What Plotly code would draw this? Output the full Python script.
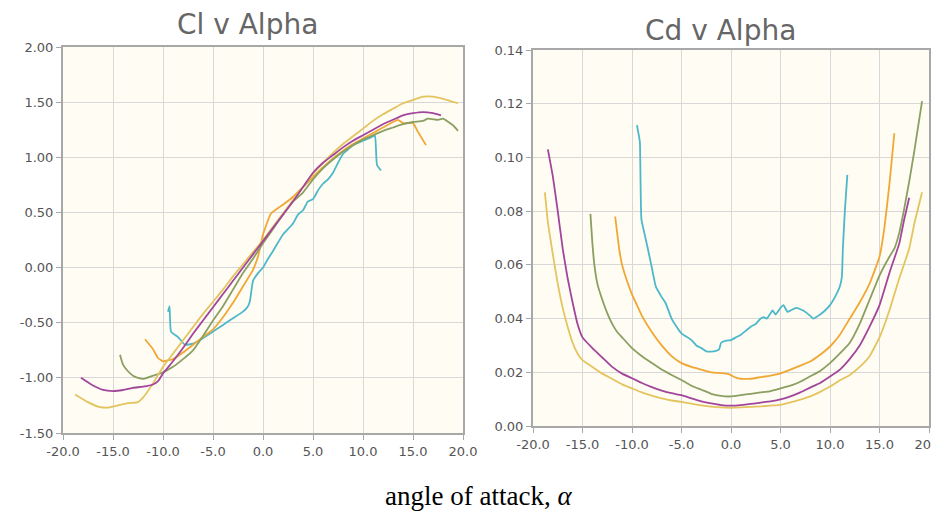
import plotly.graph_objects as go

# ---------------- Cl v Alpha data ----------------
cl_magenta_a = [-18.2, -17, -16, -15, -14, -13, -12, -11, -10.5, -10, -9, -8, -7, -6, -5, -4, -3, -2, -1, 0, 1, 2, 3, 4, 5, 6, 7, 8, 9, 10, 11, 12, 13, 14, 15, 16, 17, 17.8]
cl_magenta = [-1.00, -1.07, -1.11, -1.12, -1.11, -1.09, -1.08, -1.06, -1.03, -0.96, -0.85, -0.73, -0.60, -0.48, -0.36, -0.24, -0.12, 0.00, 0.12, 0.24, 0.36, 0.48, 0.60, 0.73, 0.86, 0.95, 1.02, 1.09, 1.15, 1.20, 1.25, 1.30, 1.34, 1.38, 1.40, 1.41, 1.40, 1.38]

cl_gold_a = [-18.8, -17.5, -16.5, -15.5, -14.5, -13.5, -12.5, -12, -11, -10, -9, -8, -7, -6, -5, -4, -3, -2, -1, 0, 1, 2, 3, 4, 5, 6, 7, 8, 9, 10, 11, 12, 13, 14, 15, 16, 17, 18, 19.5]
cl_gold = [-1.15, -1.22, -1.26, -1.27, -1.25, -1.23, -1.22, -1.18, -1.05, -0.90, -0.78, -0.66, -0.54, -0.42, -0.31, -0.20, -0.08, 0.03, 0.14, 0.25, 0.37, 0.49, 0.61, 0.73, 0.85, 0.95, 1.04, 1.12, 1.19, 1.26, 1.33, 1.39, 1.44, 1.49, 1.52, 1.55, 1.55, 1.53, 1.49]

cl_green_a = [-14.3, -14, -13.5, -13, -12.5, -12, -11, -10, -9, -8, -7, -6, -5, -4, -3, -2, -1, 0, 1, 2, 3, 4, 5, 6, 7, 8, 9, 10, 11, 12, 13, 14, 15, 16, 16.5, 17.5, 18, 19, 19.5]
cl_green = [-0.79, -0.88, -0.94, -0.98, -1.00, -1.01, -0.98, -0.95, -0.90, -0.83, -0.75, -0.62, -0.48, -0.35, -0.20, -0.05, 0.08, 0.22, 0.35, 0.48, 0.60, 0.68, 0.80, 0.90, 0.98, 1.05, 1.11, 1.16, 1.20, 1.24, 1.27, 1.30, 1.32, 1.33, 1.35, 1.34, 1.35, 1.29, 1.24]

cl_orange_a = [-11.8, -11, -10.5, -10, -9, -8, -7, -6, -5, -4, -3, -2, -1, -0.5, 0, 0.8, 2, 3, 4, 5, 6, 7, 8, 9, 10, 11, 12, 13, 13.5, 14, 15, 15.5, 16.3]
cl_orange = [-0.65, -0.74, -0.82, -0.85, -0.83, -0.77, -0.70, -0.63, -0.56, -0.45, -0.32, -0.17, -0.02, 0.10, 0.30, 0.49, 0.57, 0.64, 0.73, 0.82, 0.91, 0.99, 1.06, 1.12, 1.17, 1.22, 1.27, 1.32, 1.34, 1.31, 1.31, 1.23, 1.11]

cl_cyan_a = [-9.5, -9.35, -9.2, -8.5, -7.8, -7, -6, -5, -4, -3, -2, -1.5, -1.3, -1, -0.5, 0, 0.5, 1, 2, 3, 3.5, 4, 4.5, 5, 5.5, 6, 6.5, 7, 7.5, 8, 8.5, 9, 10, 11, 11.2, 11.4, 11.8]
cl_cyan = [-0.40, -0.35, -0.58, -0.63, -0.70, -0.69, -0.64, -0.58, -0.52, -0.46, -0.40, -0.35, -0.30, -0.12, -0.05, 0.00, 0.08, 0.15, 0.30, 0.40, 0.48, 0.52, 0.60, 0.62, 0.70, 0.76, 0.80, 0.86, 0.95, 1.03, 1.07, 1.11, 1.15, 1.19, 1.20, 0.93, 0.88]

# ---------------- Cd v Alpha data ----------------
cd_gold_a = [-18.8, -18.5, -18, -17.5, -17, -16.5, -16, -15.5, -15, -14, -13, -12, -11, -10, -9, -8, -7, -6, -5, -4, -3, -2, -1, 0, 1, 2, 3, 4, 5, 6, 7, 8, 9, 10, 11, 12, 13, 14, 15, 16, 17, 18, 18.5, 19.3]
cd_gold = [0.087, 0.076, 0.064, 0.053, 0.044, 0.037, 0.031, 0.027, 0.0245, 0.022, 0.0195, 0.0175, 0.0155, 0.014, 0.0125, 0.0113, 0.0103, 0.0095, 0.009, 0.0083, 0.0077, 0.0072, 0.0069, 0.0068, 0.0069, 0.0071, 0.0073, 0.0076, 0.0079, 0.0088, 0.0098, 0.011, 0.0127, 0.0147, 0.017, 0.019, 0.022, 0.026, 0.033, 0.043, 0.055, 0.066, 0.075, 0.087]

cd_magenta_a = [-18.5, -18, -17.5, -17, -16.5, -16, -15.5, -15, -14, -13, -12, -11, -10, -9, -8, -7, -6, -5, -4, -3, -2, -1, 0, 1, 2, 3, 4, 5, 6, 7, 8, 9, 10, 11, 12, 13, 14, 15, 16, 17, 17.5, 18]
cd_magenta = [0.103, 0.093, 0.080, 0.066, 0.055, 0.046, 0.038, 0.033, 0.029, 0.0255, 0.022, 0.0195, 0.0178, 0.016, 0.0145, 0.0132, 0.0122, 0.0115, 0.0103, 0.0092, 0.0084, 0.0078, 0.0076, 0.0078, 0.0082, 0.0087, 0.0092, 0.0099, 0.011, 0.0125, 0.0143, 0.016, 0.0184, 0.021, 0.025, 0.030, 0.037, 0.045, 0.057, 0.068, 0.077, 0.085]

cd_green_a = [-14.2, -14, -13.8, -13.5, -13, -12.5, -12, -11.5, -11, -10, -9, -8, -7, -6, -5, -4, -3, -2, -1, 0, 1, 2, 3, 4, 5, 6, 7, 8, 9, 10, 11, 12, 13, 14, 15, 16, 16.5, 17, 17.5, 18, 18.5, 19.3]
cd_green = [0.079, 0.068, 0.060, 0.053, 0.047, 0.042, 0.038, 0.035, 0.033, 0.029, 0.026, 0.0235, 0.021, 0.019, 0.0171, 0.015, 0.0135, 0.012, 0.0112, 0.011, 0.0115, 0.012, 0.0125, 0.013, 0.014, 0.015, 0.0165, 0.0185, 0.0205, 0.0234, 0.027, 0.031, 0.038, 0.047, 0.056, 0.063, 0.066, 0.072, 0.081, 0.091, 0.102, 0.121]

cd_orange_a = [-11.7, -11.5, -11.3, -11, -10.5, -10, -9.5, -9, -8, -7, -6, -5, -4, -3, -2, -1, -0.3, 0.5, 1, 2, 3, 4, 5, 6, 7, 8, 9, 10, 11, 12, 13, 14, 15, 15.5, 16, 16.5]
cd_orange = [0.078, 0.072, 0.066, 0.060, 0.054, 0.049, 0.045, 0.041, 0.035, 0.030, 0.026, 0.0234, 0.022, 0.021, 0.020, 0.0197, 0.0194, 0.018, 0.0176, 0.0176, 0.0182, 0.0188, 0.0196, 0.021, 0.0225, 0.024, 0.0265, 0.0296, 0.034, 0.040, 0.046, 0.053, 0.063, 0.074, 0.090, 0.109]

cd_cyan_a = [-9.5, -9.3, -9.2, -9.05, -8.7, -8.4, -8, -7.6, -7, -6.6, -6, -5.5, -5, -4, -3.5, -3, -2.5, -2, -1.5, -1.2, -1, -0.5, 0, 0.5, 1, 1.5, 2, 2.5, 3, 3.3, 3.6, 4, 4.2, 4.5, 5, 5.3, 5.7, 6, 6.6, 7.3, 8, 8.3, 9, 9.5, 10, 10.5, 11, 11.2, 11.3, 11.5, 11.75]
cd_cyan = [0.112, 0.108, 0.1055, 0.077, 0.071, 0.066, 0.059, 0.052, 0.048, 0.0457, 0.040, 0.037, 0.0345, 0.032, 0.030, 0.029, 0.0278, 0.0277, 0.028, 0.0285, 0.031, 0.0318, 0.032, 0.033, 0.034, 0.0355, 0.037, 0.038, 0.040, 0.0405, 0.040, 0.042, 0.043, 0.0415, 0.044, 0.045, 0.0425, 0.043, 0.044, 0.043, 0.041, 0.040, 0.0415, 0.043, 0.045, 0.048, 0.052, 0.0556, 0.066, 0.080, 0.0935]

x_ticks = [-20, -15, -10, -5, 0, 5, 10, 15, 20]
x_tick_labels = ["-20.0", "-15.0", "-10.0", "-5.0", "0.0", "5.0", "10.0", "15.0", "20.0"]
cl_ticks = [-1.5, -1.0, -0.5, 0.0, 0.5, 1.0, 1.5, 2.0]
cl_tick_labels = ["-1.50", "-1.00", "-0.50", "0.00", "0.50", "1.00", "1.50", "2.00"]
cd_ticks = [0.00, 0.02, 0.04, 0.06, 0.08, 0.10, 0.12, 0.14]
cd_tick_labels = ["0.00", "0.02", "0.04", "0.06", "0.08", "0.10", "0.12", "0.14"]

CYAN = "#4db8ca"
ORANGE = "#f0a733"
GREEN = "#8b9f62"
MAGENTA = "#a2469c"
GOLD = "#e3c45f"

fig = go.Figure()

cl_series = [
    (cl_cyan_a, cl_cyan, CYAN),
    (cl_orange_a, cl_orange, ORANGE),
    (cl_green_a, cl_green, GREEN),
    (cl_gold_a, cl_gold, GOLD),
    (cl_magenta_a, cl_magenta, MAGENTA),
]
cd_series = [
    (cd_cyan_a, cd_cyan, CYAN),
    (cd_orange_a, cd_orange, ORANGE),
    (cd_green_a, cd_green, GREEN),
    (cd_gold_a, cd_gold, GOLD),
    (cd_magenta_a, cd_magenta, MAGENTA),
]
for xs, ys, c in cl_series:
    fig.add_trace(go.Scatter(x=xs, y=ys, mode="lines", line=dict(color=c, width=1.8, shape="spline", smoothing=0.4),
                             xaxis="x", yaxis="y", showlegend=False, hoverinfo="skip"))
for xs, ys, c in cd_series:
    fig.add_trace(go.Scatter(x=xs, y=ys, mode="lines", line=dict(color=c, width=1.8, shape="spline", smoothing=0.4),
                             xaxis="x2", yaxis="y2", showlegend=False, hoverinfo="skip"))

# page places the figure 8px in from the top-left corner of the window
OFF = 8
W, H = 939 - OFF, 515 - OFF

def px_x(p):
    return (p - OFF) / W

def px_y(p):
    return 1 - (p - OFF) / H

axis_common = dict(
    showgrid=True, gridcolor="#d8d8d8", gridwidth=1,
    showline=True, linecolor="#a8a8a8", linewidth=2, mirror=True,
    ticks="outside", ticklen=5, tickcolor="#a8a8a8", tickwidth=1,
    tickfont=dict(family="DejaVu Sans", size=13, color="#555555"),
    zeroline=False, fixedrange=True, automargin=False,
    ticklabeloverflow="allow",
)

fig.update_layout(
    width=W, height=H,
    margin=dict(l=0, r=0, t=0, b=0, autoexpand=False),
    paper_bgcolor="white",
    plot_bgcolor="#fffcf3",
    xaxis=dict(domain=[px_x(63), px_x(463)], range=[-20, 20], tickvals=x_ticks, ticktext=x_tick_labels,
               anchor="y", **axis_common),
    yaxis=dict(domain=[px_y(433), px_y(47)], range=[-1.5, 2.0], tickvals=cl_ticks, ticktext=cl_tick_labels,
               anchor="x", **axis_common),
    xaxis2=dict(domain=[px_x(533), px_x(929)], range=[-20, 20], tickvals=x_ticks, ticktext=x_tick_labels,
                anchor="y2", **axis_common),
    yaxis2=dict(domain=[px_y(426), px_y(50)], range=[0, 0.14], tickvals=cd_ticks, ticktext=cd_tick_labels,
                anchor="x2", **axis_common),
    annotations=[
        dict(text="Cl v Alpha", x=px_x(247), y=px_y(24), xref="paper", yref="paper",
             xanchor="center", yanchor="middle", showarrow=False,
             font=dict(family="DejaVu Sans", size=28, color="#666666")),
        dict(text="Cd v Alpha", x=px_x(720), y=px_y(30), xref="paper", yref="paper",
             xanchor="center", yanchor="middle", showarrow=False,
             font=dict(family="DejaVu Sans", size=28, color="#666666")),
        dict(text="angle of attack, <i>α</i>", x=px_x(479), y=px_y(496), xref="paper", yref="paper",
             xanchor="center", yanchor="middle", showarrow=False,
             font=dict(family="Liberation Serif", size=27, color="#000000")),
    ],
)

fig.write_html("out.html")
